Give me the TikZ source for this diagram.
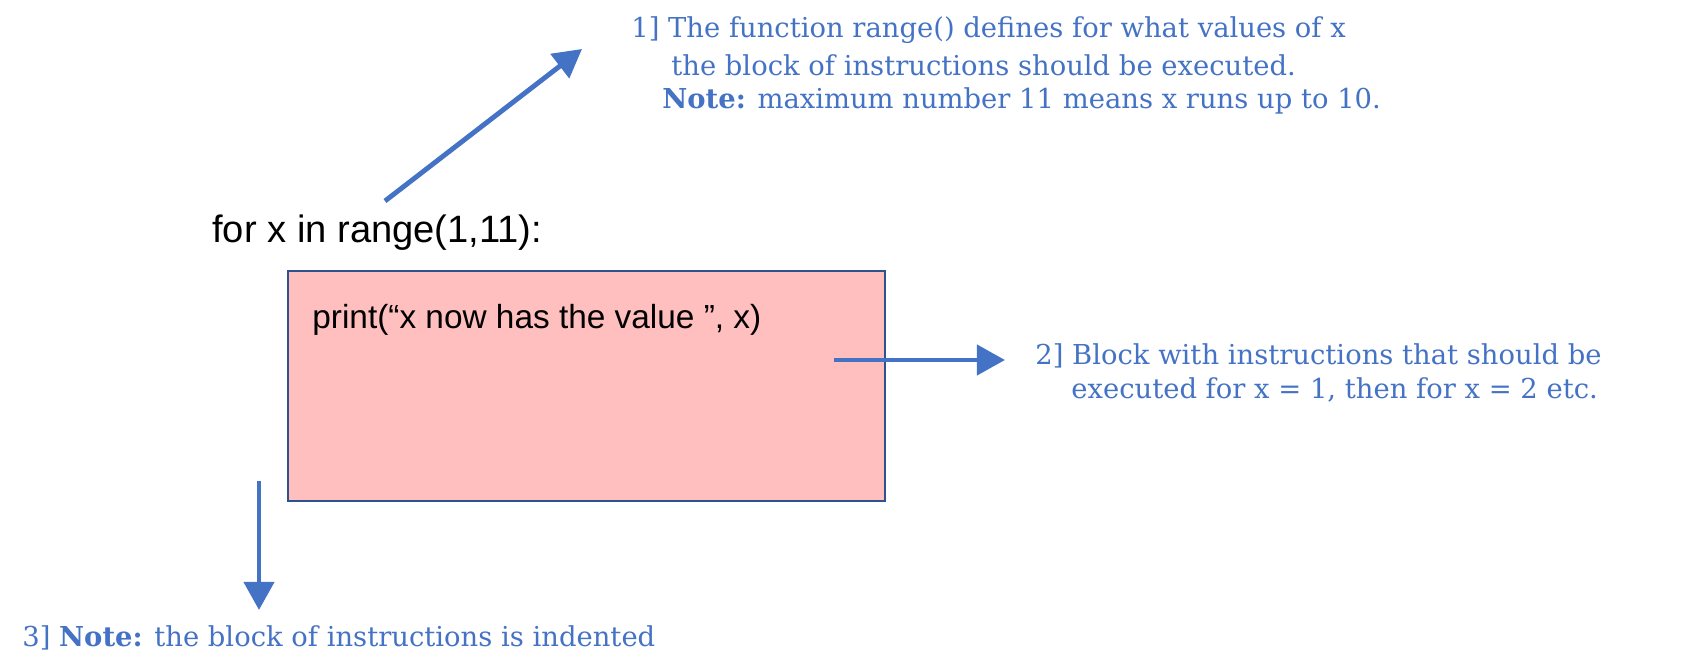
\documentclass[tikz,border=0pt]{standalone}
\usepackage{fontspec}
\setmainfont{DejaVu Serif}
\newfontfamily\arialfont{Liberation Sans}
\usetikzlibrary{arrows.meta}
\usepackage{xcolor}
\definecolor{noteblue}{HTML}{4472C4}
\definecolor{boxpink}{HTML}{FFBFBF}
\definecolor{boxline}{HTML}{2F528F}

\begin{document}
\begin{tikzpicture} [x=0.02cm, y=-0.02cm] %for loop with notes
\tikzset{note/.style={anchor=west, inner sep=0pt, text=noteblue, font=\fontsize{15.6}{18}\selectfont},
	code/.style={anchor=west, inner sep=0pt, font=\arialfont\fontsize{21.7}{24}\selectfont},
	pointer/.style={draw=noteblue, line width=2.8pt, -{Triangle[length=16pt, width=17pt]}}}
\useasboundingbox (0,0) rectangle (1691,672);

	%loop header and the indented block
\node [code] (header) at (212,233) {for x in range(1,11):};
\node [draw=boxline, fill=boxpink, line width=0.8pt, minimum width=11.94cm, minimum height=4.6cm] (block) at (586.5,386) {};
\node [code, font=\arialfont\fontsize{19}{22}\selectfont] (print) at (312,320) {print(“x now has the value ”, x)};

	%coordinates for the free ends of the arrows
\coordinate (tail1) at (385,201);
\coordinate (head1) at (582,49);
\coordinate (tail2) at (834,360);
\coordinate (head2) at (1005,360);
\coordinate (tail3) at (259,481);
\coordinate (head3) at (259,610);

	%notes
\node [note] (note1a) at (631,30) {1] The function range() defines for what values of x};
\node [note] (note1b) at (671,65) {the block of instructions should be executed.};
\node [note] (note1c) at (662,101) {\textbf{Note:} maximum number 11 means x runs up to 10.};
\node [note] (note2a) at (1035,356) {2] Block with instructions that should be};
\node [note] (note2b) at (1071,390) {executed for x = 1, then for x = 2 etc.};
\node [note] (note3) at (22,638) {3] \textbf{Note:} the block of instructions is indented};

\draw [pointer] (tail1) -- (head1);
\draw [pointer] (tail2) -- (head2);
\draw [pointer] (tail3) -- (head3);

\end{tikzpicture}
\end{document}
